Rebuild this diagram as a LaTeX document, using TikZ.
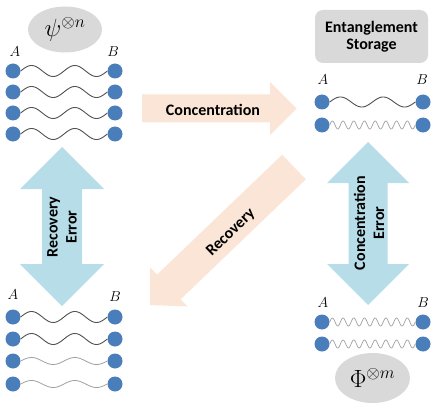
\documentclass[tikz,border=0pt]{standalone}
\usepackage{fontspec}
\newfontfamily\labfont{Carlito}
\usetikzlibrary{calc,shapes.geometric}
\definecolor{peach}{HTML}{FBE5D6}
\definecolor{skyb}{HTML}{B7DEE8}
\definecolor{dotb}{HTML}{4A7EBB}
\definecolor{ellg}{HTML}{D9D9D9}
\definecolor{wavd}{HTML}{505050}
\definecolor{wavl}{HTML}{A0A0A0}
\newcommand\drawwave[5]{\draw[#1] let \p1=(#2.east), \p2=(#3.west) in plot[variable=\t,domain=0:1,samples=160,smooth] ({\x1+\t*(\x2-\x1)},{\y1+#4*sin(#5*360*\t)});}
\begin{document}
\begin{tikzpicture}[x=1pt,y=-1pt,
 dot/.style={circle,fill=dotb,minimum size=15pt,inner sep=0pt},
 lbl/.style={font=\labfont\bfseries\fontsize{16}{19}\selectfont, align=center, inner sep=0pt},
 slow/.style={draw=wavd, line width=0.9pt},
 faint/.style={draw=wavl, line width=0.8pt},
 fast/.style={draw=wavl, line width=0.7pt},
 ab/.style={font=\fontsize{15}{15}\selectfont, inner sep=0pt},
 bubble/.style={ellipse, fill=ellg, inner sep=0pt}
]
\useasboundingbox (0,0) rectangle (436,409);

% big arrows
\fill[peach] (142,94.5) -- (270,94.5) -- (270,82) -- (296.5,108.5) -- (270,135) -- (270,122.5) -- (142,122.5) -- cycle;
\node[lbl] (conc) at (213,110) {Concentration};

\fill[peach] (282.2,154.7) -- (305.8,179.3) -- (180.6,299.3) -- (187.5,306.5) -- (150,305) -- (150.1,267.5) -- (157.0,274.7) -- cycle;
\node[lbl, rotate=44] (rec) at (231,233) {Recovery};

\fill[skyb] (62,147) -- (104,189) -- (82,189) -- (82,264) -- (104,264) -- (62,306) -- (20,264) -- (42,264) -- (42,189) -- (20,189) -- cycle;
\node[lbl, rotate=90] (recerr) at (62,227) {Recovery\\Error};

\fill[skyb] (368,142) -- (409,183) -- (387.5,183) -- (387.5,264) -- (409,264) -- (368,305) -- (327,264) -- (348.5,264) -- (348.5,183) -- (327,183) -- cycle;
\node[lbl, rotate=90] (conerr) at (369,223) {Concentration\\Error};

% top-left block
\node[bubble, minimum width=74pt, minimum height=46pt] (psi) at (65,29.5) {\fontsize{25}{25}\selectfont$\psi^{\otimes n}$};
\node[ab] (tlA) at (15,52) {$A$};
\node[ab] (tlB) at (113,52) {$B$};
\foreach \i/\y in {1/71,2/92,3/113,4/134}{
  \node[dot] (tla\i) at (13,\y) {};
  \node[dot] (tlb\i) at (115,\y) {};
  \drawwave{slow}{tla\i}{tlb\i}{5.5}{2}
}

% top-right block
\node[lbl, fill=ellg, rounded corners=8pt, minimum width=113pt, minimum height=53pt, font=\labfont\bfseries\fontsize{16}{17.5}\selectfont] (store) at (371.5,36.5) {Entanglement\\Storage};
\node[ab] (trA) at (323,80) {$A$};
\node[ab] (trB) at (422,80) {$B$};
\node[dot] (tra1) at (322,102) {};
\node[dot] (trb1) at (423,102) {};
\node[dot] (tra2) at (322,125) {};
\node[dot] (trb2) at (423,125) {};
\drawwave{slow}{tra1}{trb1}{5}{2}
\drawwave{fast}{tra2}{trb2}{4}{8}

% bottom-left block
\node[ab] (blA) at (13,295) {$A$};
\node[ab] (blB) at (115,297) {$B$};
\foreach \i/\y in {1/317,2/339,3/361,4/384}{
  \node[dot] (bla\i) at (13,\y) {};
  \node[dot] (blb\i) at (115,\y) {};
}
\drawwave{slow}{bla1}{blb1}{5.5}{2}
\drawwave{slow}{bla2}{blb2}{5.5}{2}
\drawwave{faint}{bla3}{blb3}{3.5}{2}
\drawwave{faint}{bla4}{blb4}{3.5}{2}

% bottom-right block
\node[ab] (brA) at (323,303) {$A$};
\node[ab] (brB) at (423,303) {$B$};
\node[dot] (bra1) at (322,322) {};
\node[dot] (brb1) at (423,322) {};
\node[dot] (bra2) at (322,344) {};
\node[dot] (brb2) at (423,344) {};
\drawwave{fast}{bra1}{brb1}{4}{8}
\drawwave{fast}{bra2}{brb2}{4}{8}
\node[bubble, minimum width=75pt, minimum height=50pt] (phi) at (372.5,378) {\fontsize{27}{27}\selectfont$\Phi^{\otimes m}$};
\end{tikzpicture}
\end{document}
